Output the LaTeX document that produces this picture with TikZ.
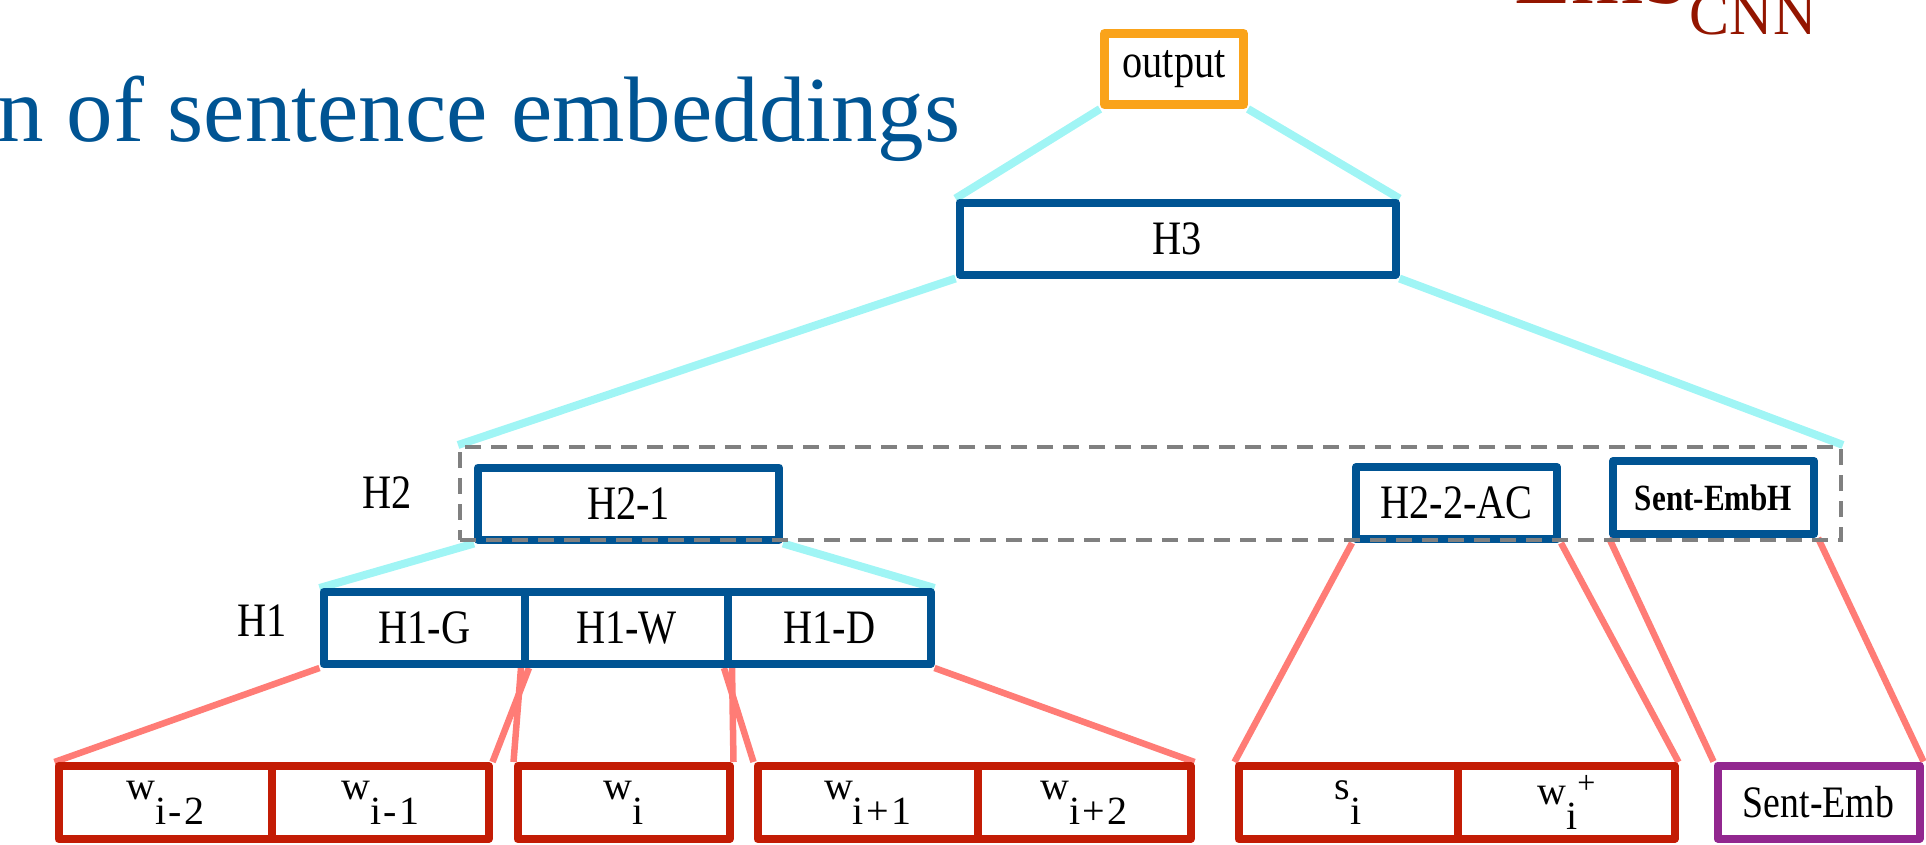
\documentclass[tikz,border=0pt]{standalone}
\usepackage{fontspec}
\setmainfont{Liberation Serif}
\newfontfamily\condf{Liberation Serif}[FakeStretch=0.84]
\newfontfamily\subf{Liberation Serif}[LetterSpace=6]
\usetikzlibrary{backgrounds}
\definecolor{boxblue}{RGB}{0,84,147}
\definecolor{boxred}{RGB}{195,28,5}
\definecolor{salmonc}{RGB}{255,124,118}
\definecolor{cyanc}{RGB}{160,245,245}
\definecolor{orangec}{RGB}{250,163,26}
\definecolor{purplec}{RGB}{146,39,143}
\definecolor{grayc}{RGB}{128,128,128}
\definecolor{titleblue}{RGB}{0,84,147}
\definecolor{darkredc}{RGB}{147,21,0}
\newcommand\wsub[1]{w\raisebox{-25pt}{\subf #1}}
\newcommand\ssub[1]{s\raisebox{-25pt}{\subf #1}}
\tikzset{
  lbl/.style={font=\condf\fontsize{48}{52}\selectfont},
  bbox/.style={draw=boxblue, line width=8pt, fill=white, inner sep=0pt, minimum height=72pt, line join=round, lbl},
  rbox/.style={draw=boxred, line width=8pt, fill=white, inner sep=0pt, minimum height=73pt, line join=round, font=\fontsize{40}{44}\selectfont},
  cyanln/.style={draw=cyanc, line width=8pt},
  salln/.style={draw=salmonc, line width=6.5pt},
}
\begin{document}
\begin{tikzpicture}[x=1pt, y=-1pt]
\useasboundingbox (0,0) rectangle (1926,845);

% title fragments
\begin{scope}
\clip (0,0) rectangle (1926,845);
\node[anchor=base west, inner sep=0pt, text=titleblue, font=\fontsize{93}{100}\selectfont] (title) at (-3,142) {n of sentence embeddings};
\node[anchor=base west, inner sep=0pt, text=darkredc, font=\fontsize{93}{100}\selectfont] (emb) at (1514,4) {Emb\raisebox{-31pt}{\fontsize{60}{64}\selectfont CNN}};
\end{scope}

% upper boxes
\node[bbox, draw=orangec, line width=9pt, minimum width=139pt, minimum height=71pt] (out) at (1174,69) {output};
\node[bbox, minimum width=436pt] (H3) at (1177.5,238.5) {H3};
\node[bbox, minimum width=301pt] (H21) at (628.5,503.5) {H2-1};
\node[bbox, minimum width=201pt] (H22) at (1456.5,503) {H2-2-AC};
\node[bbox, minimum width=201pt, minimum height=73pt, font=\condf\bfseries\fontsize{37}{40}\selectfont] (SEH) at (1713.5,497.5) {Sent-EmbH};

\node[lbl, inner sep=0pt] (H2lab) at (387,493) {H2};
\node[lbl, inner sep=0pt] (H1lab) at (262,621) {H1};

\node[bbox, minimum width=201.5pt] (H1G) at (424.25,628) {H1-G};
\node[bbox, minimum width=203pt] (H1W) at (626.5,628) {H1-W};
\node[bbox, minimum width=202.5pt] (H1D) at (829.25,628) {H1-D};

% dashed H2 group
\node[draw=grayc, dash pattern=on 16pt off 10pt, line width=4pt, minimum width=1381pt, minimum height=93pt, inner sep=0pt] (H2grp) at (1150.5,493.5) {};

% bottom boxes
\node[rbox, minimum width=213.5pt] (wm2) at (165.25,802.5) {\wsub{i-2}};
\node[rbox, minimum width=216.5pt] (wm1) at (380.25,802.5) {\wsub{i-1}};
\node[rbox, minimum width=212pt] (wi) at (623.5,802.5) {\wsub{i}};
\node[rbox, minimum width=220.5pt] (wp1) at (867.75,802.5) {\wsub{i+1}};
\node[rbox, minimum width=212.5pt] (wp2) at (1084.25,802.5) {\wsub{i+2}};
\node[rbox, minimum width=219.5pt] (si) at (1348.25,802.5) {\ssub{i}};
\node[rbox, minimum width=216.5pt] (wplus) at (1566.25,802.5) {w\raisebox{-25pt}{i}\raisebox{11pt}{\fontsize{32}{34}\selectfont +}};
\node[rbox, draw=purplec, minimum width=202pt, font=\condf\fontsize{45}{48}\selectfont] (se) at (1818.5,802) {Sent-Emb};

% connectors
\begin{scope}[on background layer]
\draw[cyanln] (out.south west) -- (H3.north west);
\draw[cyanln] (out.south east) -- (H3.north east);
\draw[cyanln] (H3.south west) -- (H2grp.north west);
\draw[cyanln] (H3.south east) -- (H2grp.north east);
\draw[cyanln] (H21.south west) -- (H1G.north west);
\draw[cyanln] (H21.south east) -- (H1D.north east);
\draw[salln] (H1G.south west) -- (wm2.north west);
\draw[salln] (H1G.south east) -- (wm1.north east);
\draw[salln] (H1W.south west) -- (wi.north west);
\draw[salln] (H1W.south east) -- (wi.north east);
\draw[salln] (H1D.south west) -- (wp1.north west);
\draw[salln] (H1D.south east) -- (wp2.north east);
\draw[salln] (H22.south west) -- (si.north west);
\draw[salln] (H22.south east) -- (wplus.north east);
\draw[salln] (SEH.south west) -- (se.north west);
\draw[salln] (SEH.south east) -- (se.north east);
\end{scope}
\end{tikzpicture}
\end{document}
